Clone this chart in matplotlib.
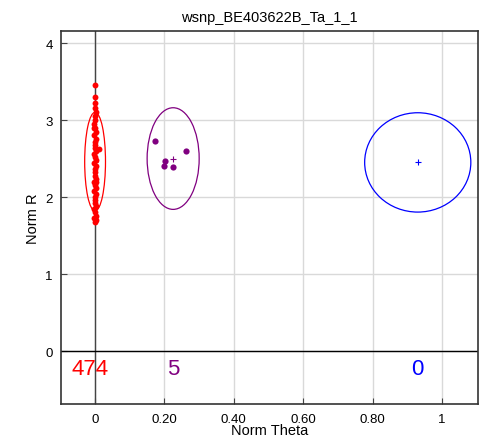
import matplotlib.pyplot as plt
from matplotlib.patches import Ellipse

plt.rcParams['font.family'] = ['Liberation Sans', 'DejaVu Sans']

title = "wsnp_BE403622B_Ta_1_1"

# cluster 1 (red), points piled up along theta ~ 0
red_x = [0.0, 0.003, -0.002, 0.002, 0.0, -0.003, 0.004, 0.001, -0.001, 0.0,
         0.003, -0.002, 0.002, 0.0, -0.003, 0.004, 0.001, -0.001, 0.0, 0.003,
         -0.002, 0.002, 0.0, -0.003, 0.004, 0.001, -0.001, 0.0, 0.003, -0.002,
         0.002, 0.0, -0.003, 0.001, 0.0, 0.002, -0.001, 0.0, 0.001, 0.0,
         0.010, 0.004, -0.004]
red_y = [1.67, 1.70, 1.73, 1.76, 1.80, 1.84, 1.88, 1.92, 1.96, 2.00,
         2.04, 2.08, 2.12, 2.16, 2.20, 2.24, 2.28, 2.32, 2.36, 2.40,
         2.44, 2.48, 2.52, 2.56, 2.60, 2.64, 2.68, 2.72, 2.76, 2.80,
         2.85, 2.90, 2.95, 3.00, 3.05, 3.10, 3.16, 3.22, 3.30, 3.45,
         2.63, 2.20, 2.90]
# cluster 2 (purple)
purple_x = [0.173, 0.202, 0.199, 0.225, 0.262]
purple_y = [2.73, 2.47, 2.40, 2.39, 2.60]

# cluster ellipses: centre x, centre y, half width, half height, count
clusters = {
    "red":    (0.0,   2.46, 0.030, 0.64, 474),
    "purple": (0.225, 2.50, 0.075, 0.66, 5),
    "blue":   (0.930, 2.45, 0.153, 0.645, 0),
}
colors = {"red": "#ff0000", "purple": "#800080", "blue": "#0000ff"}

fig = plt.figure(figsize=(4.81, 4.39), dpi=100)
ax = fig.add_axes([0.127, 0.077, 0.867, 0.850])

ax.set_xlim(-0.098, 1.104)
ax.set_ylim(-0.69, 4.156)
ax.set_xticks([0, 0.2, 0.4, 0.6, 0.8, 1.0])
ax.set_xticklabels(["0", "0.20", "0.40", "0.60", "0.80", "1"])
ax.set_yticks([0, 1, 2, 3, 4])
ax.grid(True, color="#d9d9d9", linewidth=1)
ax.set_axisbelow(True)
ax.axvline(0, color="#444444", linewidth=1, zorder=1)
ax.axhline(0, color="black", linewidth=1, zorder=1)
ax.tick_params(direction="in", length=4, labelsize=9.5, pad=6, color="#444444")
for s in ax.spines.values():
    s.set_linewidth(1.2)
    s.set_color("#333333")

ax.scatter(red_x, red_y, s=18, color=colors["red"], zorder=3, linewidths=0)
ax.scatter(purple_x, purple_y, s=20, color=colors["purple"], zorder=3, linewidths=0)

for name, (cx, cy, hw, hh, n) in clusters.items():
    c = colors[name]
    ax.add_patch(Ellipse((cx, cy), 2 * hw, 2 * hh, fill=False, edgecolor=c,
                         linewidth=0.9, zorder=4))
    ax.plot(cx, cy, marker="+", color=c, markersize=4, markeredgewidth=0.8, zorder=5)
    ax.text(cx - 0.015 if name == "red" else cx, -0.22, str(n), color=c,
            fontsize=16, ha="center", va="center")

ax.set_title(title, fontsize=10.5, pad=7)
ax.set_xlabel("Norm Theta", fontsize=10.5, labelpad=-1)
ax.set_ylabel("Norm R", fontsize=10.5)

fig.savefig("out.png", dpi=100)
